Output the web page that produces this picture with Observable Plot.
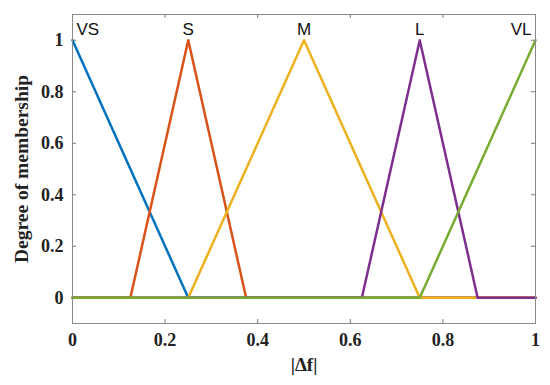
<!DOCTYPE html>
<html>
<head>
<meta charset="utf-8">
<script src="https://cdn.jsdelivr.net/npm/d3@7"></script>
<script src="https://cdn.jsdelivr.net/npm/@observablehq/plot@0.6"></script>
<style>
  html, body { margin: 0; padding: 0; background: #fff; }
</style>
</head>
<body>
<div id="chart"></div>
<script>
// Membership function sets
const setNames = ["VS", "S", "M", "L", "VL"];
const vsX = [0, 0.25, 1],                 vsY = [1, 0, 0];
const sX  = [0, 0.125, 0.25, 0.375, 1],   sY  = [0, 0, 1, 0, 0];
const mX  = [0, 0.25, 0.5, 0.75, 1],      mY  = [0, 0, 1, 0, 0];
const lX  = [0, 0.625, 0.75, 0.875, 1],   lY  = [0, 0, 1, 0, 0];
const vlX = [0, 0.75, 1],                 vlY = [0, 0, 1];
// Peak positions for the set labels
const labelX = [0, 0.25, 0.5, 0.75, 1];
// Tick values
const xTicks = [0, 0.2, 0.4, 0.6, 0.8, 1];
const yTicks = [0, 0.2, 0.4, 0.6, 0.8, 1];

const colors = ["#0072BD", "#D95319", "#EDB120", "#7E2F8E", "#77AC30"];

const seriesX = [vsX, sX, mX, lX, vlX];
const seriesY = [vsY, sY, mY, lY, vlY];
const rows = setNames.flatMap((name, i) =>
  seriesX[i].map((x, j) => ({set: name, x, y: seriesY[i][j]})));
const labels = setNames.map((name, i) => ({set: name, x: labelX[i]}));

const W = 550, H = 385;
const mL = 72, mR = 15, mT = 14, mB = 62;
const plotW = W - mL - mR, plotH = H - mT - mB;
const tk = 4;
const serif = "'Liberation Serif', 'Times New Roman', serif";
const sans = "'Liberation Sans', Arial, sans-serif";
const labelStyle = {fontSize: 17, fontFamily: sans, fill: "#111", y: 1.022, lineAnchor: "bottom", text: "set"};

const chart = Plot.plot({
  width: W, height: H,
  marginLeft: mL, marginRight: mR, marginTop: mT, marginBottom: mB,
  style: {background: "#fff", color: "#222"},
  x: {domain: [0, 1]},
  y: {domain: [-0.1, 1.1]},
  color: {domain: setNames, range: colors},
  marks: [
    // inward ticks on all four sides
    Plot.tickX(xTicks, {x: d => d, insetTop: plotH - tk, stroke: "#777"}),
    Plot.tickX(xTicks, {x: d => d, insetBottom: plotH - tk, stroke: "#777"}),
    Plot.tickY(yTicks, {y: d => d, insetRight: plotW - tk, stroke: "#777"}),
    Plot.tickY(yTicks, {y: d => d, insetLeft: plotW - tk, stroke: "#777"}),
    Plot.axisX({ticks: xTicks, tickSize: 0, tickPadding: 10, tickFormat: d => String(d),
      fontSize: 18, fontWeight: "bold", fontFamily: serif, label: null}),
    Plot.axisX({ticks: [], tickSize: 0, fontSize: 19, fontWeight: "bold", fontFamily: serif,
      label: "|Δf|", labelAnchor: "center", labelArrow: "none", labelOffset: 47}),
    Plot.axisY({ticks: yTicks, tickSize: 0, tickPadding: 9, tickFormat: d => String(d),
      fontSize: 18, fontWeight: "bold", fontFamily: serif, label: null}),
    Plot.axisY({ticks: [], tickSize: 0, fontSize: 19.5, fontWeight: "bold", fontFamily: serif,
      label: "Degree of membership", labelAnchor: "center", labelArrow: "none", labelOffset: 58}),
    Plot.line(rows, {x: "x", y: "y", z: "set", stroke: "set", strokeWidth: 2.5}),
    Plot.text(labels.filter(d => d.x === 0), {...labelStyle, x: "x", textAnchor: "start", dx: 4}),
    Plot.text(labels.filter(d => d.x > 0 && d.x < 1), {...labelStyle, x: "x", textAnchor: "middle"}),
    Plot.text(labels.filter(d => d.x === 1), {...labelStyle, x: "x", textAnchor: "end", dx: -4}),
    Plot.frame({stroke: "#888"})
  ]
});
document.getElementById("chart").appendChild(chart);
</script>
</body>
</html>
